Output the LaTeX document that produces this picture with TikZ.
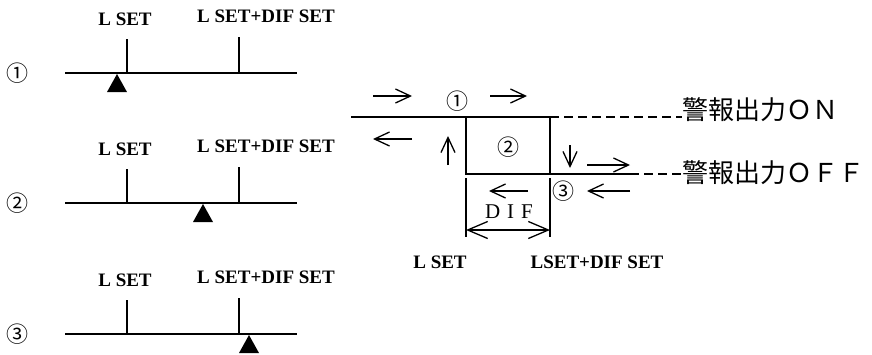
\documentclass[tikz,border=0pt]{standalone}
\usepackage{fontspec}
\setmainfont{Liberation Serif}
\newfontfamily\jpfont{Noto Sans CJK JP}
\usetikzlibrary{positioning, arrows.meta}

\begin{document}
\begin{tikzpicture}[x=1pt, y=-1pt,
      scale_line/.style={line width=2.6pt},
      hyst_line/.style={line width=1.8pt},
      dash_line/.style={line width=1.8pt, dash pattern=on 9pt off 5pt},
      flow_arr/.style={-{Straight Barb[length=15pt, width=14pt]}, line width=1.3pt},
      dif_arr/.style={{Straight Barb[length=20pt, width=17pt]}-{Straight Barb[length=20pt, width=17pt]}, line width=1.3pt},
      set_label/.style={font=\fontsize{19}{19}\selectfont\bfseries, inner sep=0pt},
      num_label/.style={font=\jpfont\fontsize{22}{22}\selectfont, inner sep=0pt},
      out_label/.style={font=\jpfont\fontsize{26}{26}\selectfont, inner sep=0pt, anchor=west}
    ]
      \useasboundingbox (0,0) rectangle (872,354);

      % three positions of the value on the scale
      \foreach \y/\tx/\c [count=\n] in {73/117/①, 203/203/②, 334/249/③}{
        \node[num_label] (num\n) at (17,\y) {\c};
        \draw[scale_line] (65,\y) -- (297,\y);
        \draw[scale_line] (127,\y) coordinate (lo\n) -- ++(0,-34);
        \draw[scale_line] (239,\y) coordinate (hi\n) -- ++(0,-36);
        \fill (\tx,\y+1) -- ++(-10,18) -- ++(20,0) -- cycle;
        \node[set_label] (lolab\n) at (125,\y-54) {L SET};
        \node[set_label] (hilab\n) at (266,\y-57) {L SET+DIF SET};
      }

      % hysteresis
      \coordinate (tl) at (466,117);
      \coordinate (tr) at (550,117);
      \coordinate (bl) at (466,174);
      \coordinate (br) at (550,174);
      \node[out_label] (on) at (682,110) {警報出力ＯＮ};
      \node[out_label] (off) at (682,173) {警報出力ＯＦＦ};

      \draw[hyst_line] (351,117) -- (tr) -- (br);
      \draw[hyst_line] (tl) -- (bl) -- (630,174) coordinate (offend);
      \draw[dash_line] (tr) -- (on.west |- tr);
      \draw[dash_line] (offend) -- (off.west |- offend);

      \draw[hyst_line] (466,178) coordinate (dl) -- (466,237);
      \draw[hyst_line] (550,178) coordinate (dr) -- (550,237);
      \draw[dif_arr] (466,230) -- (550,230);
      \node[font=\fontsize{21}{21}\selectfont, inner sep=0pt] (dif) at (509,212) {D\hspace{7pt}I\hspace{7pt}F};
      \node[set_label] (setlo) at (440,262) {L SET};
      \node[set_label] (sethi) at (597,262) {LSET+DIF SET};

      % direction marks
      \draw[flow_arr] (373,96) -- (412,96);
      \draw[flow_arr] (490,96) -- (527,96);
      \draw[flow_arr] (412,139) -- (373,139);
      \draw[flow_arr] (448,165) -- (448,136);
      \draw[flow_arr] (570,145) -- (570,168);
      \draw[flow_arr] (587,165) -- (630,165);
      \draw[flow_arr] (528,191) -- (489,191);
      \draw[flow_arr] (630,191) -- (587,191);
      \node[num_label] (p1) at (457,101) {①};
      \node[num_label] (p2) at (508,147) {②};
      \node[num_label] (p3) at (563,191) {③};
    \end{tikzpicture}
\end{document}
